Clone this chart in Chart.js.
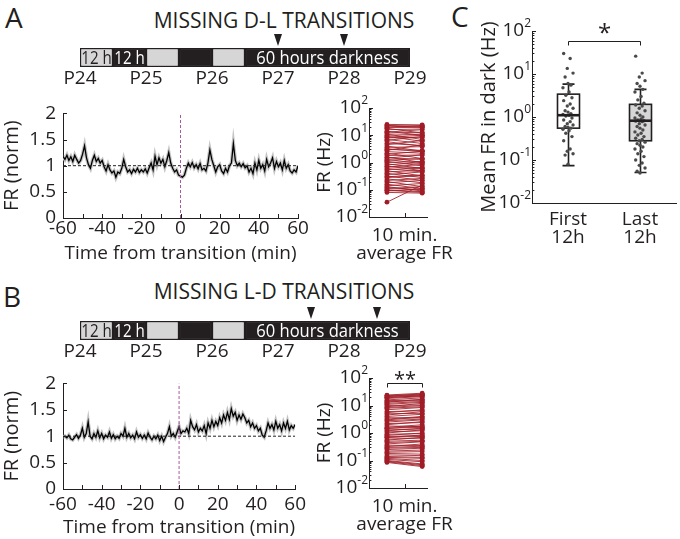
<!DOCTYPE html>
<html><head><meta charset="utf-8"><title>Missing transitions</title>
<script src="https://cdn.jsdelivr.net/npm/chart.js@4.4.1/dist/chart.umd.min.js"></script>
<style>
html,body{margin:0;padding:0;background:#fff;}
#wrap{position:relative;width:680px;height:539px;overflow:hidden;font-family:'Open Sans','DejaVu Sans',sans-serif;color:#231f20;}
#wrap canvas{position:absolute;}
.t{position:absolute;white-space:nowrap;line-height:1;}
</style></head><body>
<div id="wrap">
<div class="t" style="left:5px;top:3px;font-size:28px">A</div>
<div class="t" style="left:3px;top:282px;font-size:28px">B</div>
<div class="t" style="left:451px;top:2px;font-size:28px">C</div>
<div class="t" style="left:284px;top:10px;font-size:21px;transform:translateX(-50%)">MISSING D-L TRANSITIONS</div>
<div class="t" style="left:284px;top:281px;font-size:21px;transform:translateX(-50%)">MISSING L-D TRANSITIONS</div>
</div>
<script>
// ---------------- data ----------------
const dayLabels = ['P24','P25','P26','P27','P28','P29'];
const segStartH = [0, 12, 24, 36, 48, 60];
const segEndH   = [12, 24, 36, 48, 60, 120];
const segIsLight = [true, false, true, false, true, false];
const segText = ['12 h', '12 h', '', '', '', '60 hours darkness'];
const missingA = [72, 96];
const missingB = [84, 108];

const timeMin = [];
for (let t = -60; t <= 60; t++) timeMin.push(t);
const refLevel = 1;

const frNormA = [
 1.18,1.12,1.20,1.10,1.17,1.08,1.20,1.12,1.05,1.10,
 1.22,1.38,1.15,1.02,0.95,1.10,1.20,1.08,1.14,1.05,
 1.10,0.98,0.90,1.02,0.92,0.86,0.90,0.78,0.88,0.85,
 0.95,1.12,0.98,0.88,0.92,0.85,0.93,0.88,0.95,0.87,
 0.92,0.88,0.94,0.86,0.96,1.05,0.92,1.18,1.02,1.15,
 1.05,1.12,0.98,1.10,1.25,1.05,0.95,0.88,0.92,0.82,
 0.80,
 0.78,0.82,0.95,1.05,0.98,1.06,0.96,1.02,0.94,1.04,
 0.92,0.95,0.90,1.05,1.30,1.12,1.00,0.88,0.98,1.02,
 0.90,0.85,0.95,0.88,1.00,1.05,1.42,1.10,1.00,1.05,
 0.98,1.04,0.96,1.00,0.88,0.95,0.85,1.05,0.92,1.10,
 0.95,1.02,0.90,1.12,0.98,1.05,1.15,0.95,1.08,0.98,
 1.05,0.92,1.10,0.95,1.02,0.90,0.86,0.92,0.88,1.00];

const frNormB = [
 0.98,1.00,0.97,1.02,0.95,0.93,0.98,1.03,0.96,1.02,
 1.15,0.98,1.05,1.27,1.00,0.95,1.05,0.98,1.10,0.97,
 1.05,0.95,1.02,0.98,1.08,0.96,1.03,0.95,1.00,0.96,
 1.05,1.00,1.15,0.98,1.05,0.97,1.02,0.95,1.08,0.98,
 1.03,0.96,1.02,0.95,1.06,0.98,0.93,1.00,0.95,1.02,
 0.92,1.00,0.90,0.98,1.05,1.18,1.00,1.05,0.98,1.08,
 1.18,
 1.05,1.10,1.08,1.15,1.05,1.30,1.18,1.12,1.22,1.08,
 1.15,1.10,1.20,1.05,1.25,1.15,1.30,1.18,1.28,1.20,
 1.35,1.25,1.40,1.30,1.45,1.32,1.52,1.38,1.45,1.30,
 1.40,1.32,1.42,1.35,1.25,1.30,1.18,1.25,1.15,1.20,
 1.10,1.15,1.02,0.98,1.10,1.25,1.15,1.22,1.12,1.28,
 1.15,1.22,1.10,1.25,1.15,1.28,1.12,1.20,1.15,1.22];

const pairsLeftA  = [25,23,22,20,19,18,16,14,13,12,11,10,9,8.5,8,7,6.5,5.8,5,4.5,4,3.6,3.2,3,2.8,2.5,2.2,2,1.8,1.6,1.5,1.45,1.3,1.2,1.1,1,0.9,0.82,0.75,0.7,0.68,0.6,0.55,0.5,0.45,0.4,0.36,0.32,0.3,0.28,0.25,0.22,0.2,0.18,0.16,0.14,0.13,0.12,0.11,0.1,0.095,0.09,0.08,0.035];
const pairsRightA = [24,21,20,23,19.5,12,17,10,16,13,7,11,6,10,8.5,5,9,4,4.2,6.5,2.6,3.8,2.5,2.8,4.5,2.2,1.4,2.6,1.9,1.0,1.3,1.9,0.9,1.4,0.75,1.1,0.6,1.0,0.5,0.65,0.85,0.45,0.62,0.32,0.52,0.28,0.45,0.22,0.35,0.33,0.18,0.26,0.13,0.22,0.11,0.17,0.09,0.1,0.13,0.085,0.08,0.11,0.075,0.15];

const pairsLeftB  = [24,23,22,21,20,19,18,16,15,14,13,12,11,10,9,8.5,8,7,6,5.5,5,4.5,4,3.6,3.2,3,2.8,2.5,2.2,2,1.8,1.6,1.5,1.45,1.3,1.2,1.1,1,0.9,0.82,0.75,0.7,0.68,0.6,0.55,0.5,0.45,0.4,0.36,0.32,0.3,0.28,0.25,0.22,0.2,0.18,0.16,0.14,0.13,0.12,0.11,0.1,0.095,0.09,0.085];
const pairsRightB = [28,26,25,24,22,23,21,19,16,15,17,14,13,10.5,12,10,9,8.5,6.5,7,5.2,6,4.8,3.5,4,3.8,3.2,3,2.4,2.6,1.7,2,1.6,1.8,1.4,1.5,1.2,1.3,0.95,1,0.8,0.75,0.85,0.65,0.7,0.55,0.5,0.48,0.35,0.4,0.33,0.3,0.28,0.24,0.21,0.17,0.15,0.13,0.12,0.1,0.09,0.075,0.07,0.065,0.06];

const groupLabels = [['First','12h'], ['Last','12h']];
const darkFirst = [30,23,13.5,10.5,8.5,6.0,5.5,4.8,3.8,3.2,2.8,2.4,2.0,1.8,1.6,1.4,1.3,1.2,1.15,1.1,1.05,0.95,0.85,0.78,0.7,0.65,0.6,0.58,0.55,0.52,0.48,0.42,0.35,0.28,0.18,0.16,0.14,0.13,0.08];
const darkLast  = [26,10.5,8.5,7,6,5.2,4.4,3.8,3.0,2.5,2.1,1.9,1.8,1.6,1.4,1.25,1.1,1.0,0.95,0.9,0.85,0.82,0.8,0.78,0.7,0.65,0.6,0.55,0.5,0.45,0.42,0.38,0.35,0.32,0.3,0.28,0.26,0.24,0.22,0.2,0.18,0.16,0.14,0.12,0.1,0.085,0.075,0.065,0.055,0.05];
// [lower whisker, q1, median, q3, upper whisker]
const statFirst = [0.074, 0.55, 1.1, 3.4, 5.8];
const statLast  = [0.051, 0.28, 0.82, 1.97, 4.4];
const decades = [0.01, 0.1, 1, 10, 100];
const decadeExp = ['-2', '-1', '0', '1', '2'];

// ---------------- style ----------------
const FONT = "'Open Sans','DejaVu Sans',sans-serif";
const INK = '#231f20';
const RED = '#a01c26';
const jitter = [-0.06,0.03,-0.01,0.07,-0.04,0,0.04,-0.07,0.015,-0.03,0.055];

Chart.defaults.font.family = FONT;
Chart.defaults.color = INK;
Chart.defaults.animation = false;
Chart.defaults.responsive = false;
Chart.defaults.events = [];
Chart.defaults.plugins.legend.display = false;
Chart.defaults.plugins.tooltip.enabled = false;

const wrap = document.getElementById('wrap');
function makeCanvas(L, T, W, H) {
  const c = document.createElement('canvas');
  c.width = W; c.height = H;
  c.style.left = L + 'px'; c.style.top = T + 'px';
  c.style.width = W + 'px'; c.style.height = H + 'px';
  wrap.appendChild(c);
  return c;
}

// inward MATLAB-style ticks
Chart.register({
  id: 'matTicks',
  afterDatasetsDraw(chart, args, o) {
    if (!o || !o.len) return;
    const ctx = chart.ctx, a = chart.chartArea, xs = chart.scales.x, ys = chart.scales.y;
    ctx.save(); ctx.strokeStyle = INK; ctx.lineWidth = 1; ctx.beginPath();
    if (o.x) xs.ticks.forEach(t => { const p = Math.round(xs.getPixelForValue(t.value)) + 0.5; ctx.moveTo(p, a.bottom); ctx.lineTo(p, a.bottom - o.len); });
    ys.ticks.forEach(t => { const p = Math.round(ys.getPixelForValue(t.value)) + 0.5; ctx.moveTo(a.left, p); ctx.lineTo(a.left + o.len, p); });
    if (o.minor) {
      for (let d = 0; d < decades.length - 1; d++) for (let m = 2; m <= 9; m++) {
        const p = Math.round(ys.getPixelForValue(decades[d] * m)) + 0.5;
        ctx.moveTo(a.left, p); ctx.lineTo(a.left + o.len * 0.6, p);
      }
    }
    ctx.stroke(); ctx.restore();
  }
});

// 10^n labels for log axes
Chart.register({
  id: 'logLabels',
  afterDraw(chart, args, o) {
    if (!o || !o.size) return;
    const ctx = chart.ctx, a = chart.chartArea, ys = chart.scales.y;
    ctx.save(); ctx.fillStyle = INK; ctx.textAlign = 'right'; ctx.textBaseline = 'middle';
    decades.forEach((v, i) => {
      const y = ys.getPixelForValue(v), x = a.left - o.pad;
      ctx.font = o.exp + 'px ' + FONT;
      const w = ctx.measureText(decadeExp[i]).width;
      ctx.fillText(decadeExp[i], x, y - o.raise);
      ctx.font = o.size + 'px ' + FONT;
      ctx.fillText('10', x - w, y);
    });
    ctx.restore();
  }
});

// significance bracket
Chart.register({
  id: 'sigBar',
  afterDatasetsDraw(chart, args, o) {
    if (!o || !o.text) return;
    const ctx = chart.ctx, xs = chart.scales.x, ys = chart.scales.y;
    const x1 = Math.round(xs.getPixelForValue(o.x1)) + 0.5, x2 = Math.round(xs.getPixelForValue(o.x2)) + 0.5;
    const y = Math.round(ys.getPixelForValue(o.y)) + 0.5;
    ctx.save(); ctx.strokeStyle = INK; ctx.lineWidth = 1;
    ctx.beginPath(); ctx.moveTo(x1, y + o.drop); ctx.lineTo(x1, y); ctx.lineTo(x2, y); ctx.lineTo(x2, y + o.drop); ctx.stroke();
    ctx.fillStyle = INK; ctx.font = o.size + 'px ' + FONT; ctx.textAlign = 'center'; ctx.textBaseline = 'alphabetic';
    ctx.fillText(o.text, (x1 + x2) / 2, y + o.dy);
    ctx.restore();
  }
});

// box plot drawn through the chart scales
Chart.register({
  id: 'boxes',
  beforeDatasetsDraw(chart, args, o) {
    if (!o || !o.items) return;
    const ctx = chart.ctx, xs = chart.scales.x, ys = chart.scales.y;
    ctx.save(); ctx.strokeStyle = INK;
    o.items.forEach(b => {
      const cx = Math.round(xs.getPixelForValue(b.x)) + 0.5;
      const [lo, q1, md, q3, hi] = b.s.map(v => ys.getPixelForValue(v));
      ctx.fillStyle = b.fill;
      ctx.fillRect(cx - o.half, q3, o.half * 2, q1 - q3);
      ctx.lineWidth = 1.6;
      ctx.beginPath();
      ctx.moveTo(cx, q3); ctx.lineTo(cx, hi); ctx.moveTo(cx - o.cap, hi); ctx.lineTo(cx + o.cap, hi);
      ctx.moveTo(cx, q1); ctx.lineTo(cx, lo); ctx.moveTo(cx - o.cap, lo); ctx.lineTo(cx + o.cap, lo);
      ctx.stroke();
      ctx.strokeRect(cx - o.half, q3, o.half * 2, q1 - q3);
    });
    ctx.restore();
  },
  afterDatasetsDraw(chart, args, o) {
    if (!o || !o.items) return;
    const ctx = chart.ctx, xs = chart.scales.x, ys = chart.scales.y;
    ctx.save(); ctx.strokeStyle = INK; ctx.lineWidth = 2.6;
    o.items.forEach(b => {
      const cx = Math.round(xs.getPixelForValue(b.x)) + 0.5;
      const md = ys.getPixelForValue(b.s[2]);
      ctx.beginPath(); ctx.moveTo(cx - o.half, md); ctx.lineTo(cx + o.half, md); ctx.stroke();
    });
    ctx.restore();
  }
});

// timeline texts + triangles
Chart.register({
  id: 'timelineMarks',
  afterDatasetsDraw(chart, args, o) {
    if (!o || !o.texts) return;
    const ctx = chart.ctx, a = chart.chartArea, xs = chart.scales.x;
    ctx.save(); ctx.textAlign = 'center'; ctx.textBaseline = 'middle';
    segStartH.forEach((s, i) => {
      if (!o.texts[i]) return;
      const x = (xs.getPixelForValue(s) + xs.getPixelForValue(segEndH[i])) / 2;
      const long = o.texts[i].length > 6;
      ctx.save();
      ctx.translate(x, (a.top + a.bottom) / 2 + 1);
      ctx.scale(long ? 0.92 : 0.84, 1);
      ctx.font = '18px ' + FONT;
      ctx.fillStyle = segIsLight[i] ? INK : '#ffffff';
      ctx.fillText(o.texts[i], 0, 0);
      ctx.restore();
    });
    ctx.fillStyle = INK;
    o.missing.forEach(h => {
      const x = xs.getPixelForValue(h);
      ctx.beginPath(); ctx.moveTo(x - 4, a.top - 14); ctx.lineTo(x + 4, a.top - 14); ctx.lineTo(x, a.top - 2); ctx.closePath(); ctx.fill();
    });
    ctx.restore();
  }
});

const axisBorder = { display: true, color: INK, width: 1 };
const noGrid = { display: false, drawTicks: false };

function timeline(T, area, missing) {
  const L = 0, W = 440, H = 60;
  new Chart(makeCanvas(L, T, W, H), {
    type: 'bar',
    data: { labels: [''], datasets: segStartH.map((s, i) => ({
      data: [[s, segEndH[i]]], backgroundColor: segIsLight[i] ? '#d6d6d6' : '#231f20',
      borderColor: INK, borderWidth: 1.5, borderSkipped: false, grouped: false,
      barPercentage: 1, categoryPercentage: 1 })) },
    options: {
      indexAxis: 'y',
      layout: { padding: { left: area.l - L, right: L + W - area.r, top: area.t - T, bottom: 0 } },
      scales: {
        x: { type: 'linear', min: 0, max: 120, grid: noGrid, border: { display: false },
             ticks: { stepSize: 24, autoSkip: false, maxRotation: 0, padding: 2, font: { size: 19, lineHeight: 1 },
                      callback: v => dayLabels[Math.round(v / 24)] },
             afterFit: s => { s.height = T + H - area.b; } },
        y: { display: false }
      },
      plugins: { timelineMarks: { texts: segText, missing } }
    }
  });
}

function frLine(L, T, W, H, area, fr, tickPad) {
  const pts = timeMin.map((t, i) => ({ x: t, y: fr[i] }));
  new Chart(makeCanvas(L, T, W, H), {
    type: 'scatter',
    data: { datasets: [
      { data: pts, showLine: true, borderColor: '#c4c4c4', borderWidth: 3.6, pointRadius: 0, order: 4 },
      { data: pts, showLine: true, borderColor: '#000000', borderWidth: 1.3, pointRadius: 0, order: 3 },
      { data: [{ x: timeMin[0], y: refLevel }, { x: timeMin[timeMin.length - 1], y: refLevel }], showLine: true, borderColor: INK, borderWidth: 1, borderDash: [3, 2], pointRadius: 0, order: 2 },
      { data: [{ x: 0, y: 0 }, { x: 0, y: 2 }], showLine: true, borderColor: '#a9589f', borderWidth: 1, borderDash: [3, 2], pointRadius: 0, order: 1 }
    ] },
    options: {
      layout: { padding: { left: 0, right: L + W - area.r, top: area.t - T, bottom: 0 } },
      scales: {
        x: { min: -60, max: 60, grid: noGrid, border: axisBorder,
             ticks: { stepSize: 10, autoSkip: false, maxRotation: 0, padding: tickPad, font: { size: 19, lineHeight: 1 },
                      callback: v => (v % 20 === 0 ? String(v) : '') },
             title: { display: true, text: 'Time from transition (min)', font: { size: 19 }, padding: 0 },
             afterFit: s => { s.height = T + H - area.b; } },
        y: { min: 0, max: 2, grid: noGrid, border: axisBorder,
             ticks: { stepSize: 0.5, padding: 7, font: { size: 19 }, callback: v => String(v) },
             title: { display: true, text: 'FR (norm)', font: { size: 20 }, padding: 0 },
             afterFit: s => { s.width = area.l - L; } }
      },
      plugins: { matTicks: { len: 4, x: true } }
    }
  });
}

function paired(L, T, W, H, area, left, right, sig) {
  const ds = left.map((l, i) => ({
    data: [{ x: 0, y: l }, { x: 1, y: right[i] }], showLine: true,
    borderColor: 'rgba(160,28,38,0.85)', borderWidth: 1, pointRadius: 2.4,
    pointBackgroundColor: RED, pointBorderWidth: 0 }));
  new Chart(makeCanvas(L, T, W, H), {
    type: 'scatter',
    data: { datasets: ds },
    options: {
      layout: { padding: { left: 0, right: L + W - area.r, top: area.t - T, bottom: 0 } },
      scales: {
        x: { min: -0.51, max: 1.15, grid: noGrid, border: axisBorder,
             afterBuildTicks: s => { s.ticks = [{ value: 0.5 }]; },
             ticks: { autoSkip: false, maxRotation: 0, padding: 10, font: { size: 19, lineHeight: 0.92 },
                      callback: () => ['10 min.', 'average FR'] },
             afterFit: s => { s.height = T + H - area.b; } },
        y: { type: 'logarithmic', min: 0.01, max: 100, grid: noGrid, border: axisBorder,
             afterBuildTicks: s => { s.ticks = decades.map(v => ({ value: v })); },
             ticks: { display: false },
             title: { display: true, text: 'FR (Hz)', font: { size: 19 }, padding: 0 },
             afterFit: s => { s.width = area.l - L; } }
      },
      plugins: { matTicks: { len: 4, x: true, minor: true }, logLabels: { size: 19, exp: 12, raise: 7, pad: 1 }, sigBar: sig }
    }
  });
}

// ---------- panel A ----------
timeline(30, { l: 80, r: 410, t: 48, b: 67 }, missingA);
frLine(0, 95, 312, 170, { l: 63, r: 298, t: 111, b: 218 }, frNormA, 1);
paired(313, 95, 160, 185, { l: 369, r: 447, t: 108, b: 217 }, pairsLeftA, pairsRightA, {});

// ---------- panel B ----------
timeline(303, { l: 80, r: 410, t: 321, b: 340 }, missingB);
frLine(0, 365, 312, 174, { l: 63, r: 298, t: 381, b: 489 }, frNormB, 6);
paired(313, 363, 160, 176, { l: 369, r: 447, t: 378, b: 488 }, pairsLeftB, pairsRightB,
  { x1: 0, x2: 1, y: 68, text: '**', size: 20, drop: 4, dy: 2 });

// ---------- panel C ----------
(function () {
  const L = 477, T = 15, W = 203, H = 240, area = { l: 532, r: 678, t: 31, b: 203 };
  const groups = [darkFirst, darkLast];
  new Chart(makeCanvas(L, T, W, H), {
    type: 'scatter',
    data: { datasets: groups.map((arr, g) => ({
      data: arr.map((v, i) => ({ x: g + 1 + jitter[i % jitter.length], y: v })),
      pointRadius: 1.7, pointBackgroundColor: '#4a4a4a', pointBorderWidth: 0 })) },
    options: {
      layout: { padding: { left: 0, right: L + W - area.r, top: area.t - T, bottom: 0 } },
      scales: {
        x: { min: 0.5, max: 2.5, grid: noGrid, border: axisBorder,
             afterBuildTicks: s => { s.ticks = [{ value: 1 }, { value: 2 }]; },
             ticks: { autoSkip: false, maxRotation: 0, padding: 7, font: { size: 19, lineHeight: 0.97 },
                      callback: v => groupLabels[Math.round(v) - 1] },
             afterFit: s => { s.height = T + H - area.b; } },
        y: { type: 'logarithmic', min: 0.01, max: 100, grid: noGrid, border: axisBorder,
             afterBuildTicks: s => { s.ticks = decades.map(v => ({ value: v })); },
             ticks: { display: false },
             title: { display: true, text: 'Mean FR in dark (Hz)', font: { size: 20 }, padding: 0 },
             afterFit: s => { s.width = area.l - L; } }
      },
      plugins: {
        matTicks: { len: 4, x: false, minor: true },
        logLabels: { size: 19, exp: 12, raise: 7, pad: 1 },
        boxes: { items: [{ x: 1, s: statFirst, fill: '#ffffff' }, { x: 2, s: statLast, fill: '#d6d6d6' }], half: 11, cap: 6 },
        sigBar: { x1: 1, x2: 2, y: 60, text: '*', size: 24, drop: 4, dy: -1 }
      }
    }
  });
})();
</script>
</body></html>
